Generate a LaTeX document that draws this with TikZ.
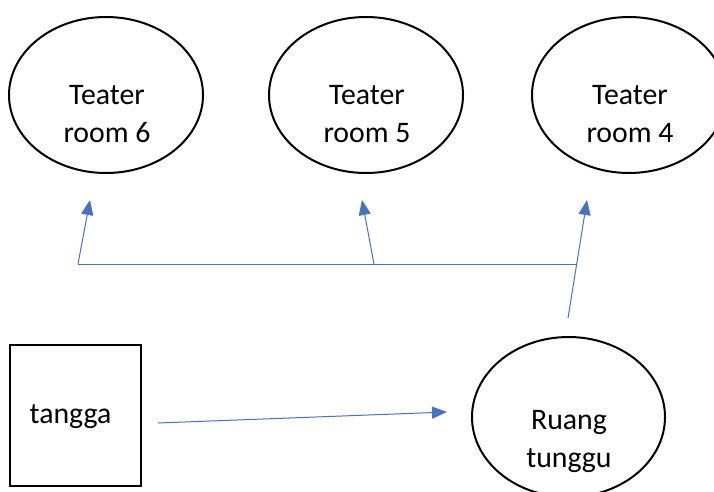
\documentclass[tikz,border=0pt]{standalone}
\usepackage{fontspec}
\setmainfont{Carlito}
\usetikzlibrary{arrows.meta,shapes.geometric}
\definecolor{flowblue}{HTML}{4472C4}
\tikzset{
  room/.style={draw=black,line width=2pt,ellipse,minimum width=194pt,minimum height=156pt,inner sep=0pt},
  stairs/.style={draw=black,line width=2pt,rectangle,minimum width=131pt,minimum height=141pt,inner sep=0pt},
  lbl/.style={align=center,font=\fontsize{29.8}{38}\selectfont,inner sep=0pt},
  flow/.style={draw=flowblue,line width=1pt},
  flowarrow/.style={flow,-{Triangle[length=15pt,width=12pt]}}
}
\begin{document}
\begin{tikzpicture}[x=1pt,y=-1pt]
\useasboundingbox (0,0) rectangle (714,492);
% rooms
\node[room] (r6) at (106,95) {};
\node[room] (r5) at (366,95) {};
\node[room] (r4) at (629,95) {};
\node[room,minimum height=160pt,minimum width=193pt] (wait) at (568.5,417) {};
\node[stairs] (st) at (75,415.5) {};
% labels
\node[lbl] (t6) at (107,114) {Teater\\room 6};
\node[lbl] (t5) at (367,114) {Teater\\room 5};
\node[lbl] (t4) at (630,114) {Teater\\room 4};
\node[lbl] (tw) at (569,441) {Ruang\\tunggu};
\node[lbl] (ts) at (70.5,417) {tangga};
% connector points
\coordinate (sA) at (158,423);
\coordinate (sB) at (447,412);
\coordinate (hL) at (78,264);
\coordinate (hM) at (374,264);
\coordinate (hR) at (577,264);
\coordinate (wB) at (568,318);
\coordinate (a6) at (90,200);
\coordinate (a5) at (362,200);
\coordinate (a4) at (587,200);
% connectors
\draw[flowarrow] (sA) -- (sB);
\draw[flow] (hL) -- (hR);
\draw[flowarrow] (hL) -- (a6);
\draw[flowarrow] (hM) -- (a5);
\draw[flowarrow] (wB) -- (a4);
\end{tikzpicture}
\end{document}
